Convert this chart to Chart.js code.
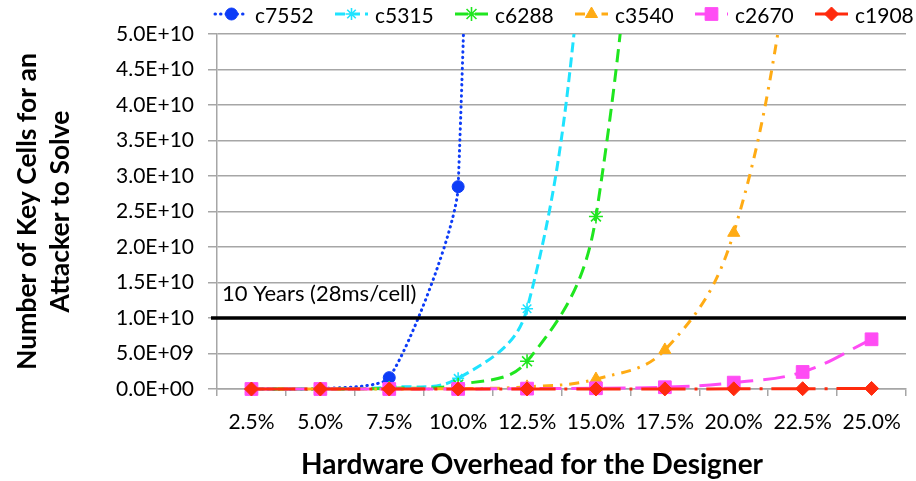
<!DOCTYPE html>
<html>
<head>
<meta charset="utf-8">
<script src="https://cdn.jsdelivr.net/npm/chart.js@4.4.1/dist/chart.umd.min.js"></script>
<style>
  html, body { margin: 0; padding: 0; background: #ffffff; }
  #wrap { width: 916px; height: 481px; }
</style>
</head>
<body>
<div id="wrap"><canvas id="chart" width="916" height="481"></canvas></div>
<script>
// Hardware overhead levels (x axis categories)
const categories = ['2.5%', '5.0%', '7.5%', '10.0%', '12.5%', '15.0%', '17.5%', '20.0%', '22.5%', '25.0%'];

// Number of key cells an attacker must solve, per benchmark circuit
const seriesNames = ['c7552', 'c5315', 'c6288', 'c3540', 'c2670', 'c1908'];
const c7552 = [2e6, 4e7, 1.6e9, 2.85e10, 5e11, null, null, null, null, null];
const c5315 = [1e6, 1e7, 2.5e8, 1.5e9, 1.13e10, 7.5e10, null, null, null, null];
const c6288 = [1e6, 1e7, 1e8, 6e8, 3.9e9, 2.43e10, 1.3e11, null, null, null];
const c3540 = [0, 0, 1e7, 5e7, 3e8, 1.4e9, 5.5e9, 2.2e10, 7e10, null];
const c2670 = [0, 0, 1e6, 1e7, 5e7, 1e8, 2.5e8, 9e8, 2.4e9, 7.0e9];
const c1908 = [0, 0, 0, 1e6, 2e6, 5e6, 1e7, 2e7, 4e7, 8e7];
const seriesValues = [c7552, c5315, c6288, c3540, c2670, c1908];

// Y axis range and step
const yMin = 0;
const yMax = 5e10;
const yStep = 5e9;

// Reference level: ten years of solving at 28 ms per cell
const thresholdValue = 1e10;
const thresholdLabel = '10 Years (28ms/cell)';

const xTitle = 'Hardware Overhead for the Designer';
const yTitle = ['Number of Key Cells for an', 'Attacker to Solve'];

const FONT = 'Lato, "Open Sans", "DejaVu Sans", sans-serif';

// Line and marker style per series
const styles = [
  { color: '#0d3cf7', dash: [0.5, 5], cap: 'round', width: 3, point: 'circle',   radius: 6, tension: 0.2 },
  { color: '#1fe3ff', dash: [10, 5],  cap: 'butt',  width: 3, point: 'star',     radius: 6, tension: 0.4 },
  { color: '#1fe61f', dash: [13, 7],  cap: 'butt',  width: 3, point: 'star',     radius: 7, tension: 0.4 },
  { color: '#ffab14', dash: [10, 7, 2.5, 7], cap: 'butt', width: 3, point: 'triangle', radius: 7, tension: 0.4 },
  { color: '#ff4cf4', dash: [22, 10], cap: 'butt',  width: 3, point: 'rect',     radius: 9, tension: 0.4 },
  { color: '#ff2a0d', dash: [44, 9, 3, 9], cap: 'butt', width: 3, point: 'rectRot', radius: 7, tension: 0.4 }
];

function sci(v) {
  if (v === 0) return '0.0E+00';
  let exp = Math.floor(Math.log10(v) + 1e-9);
  let mant = v / Math.pow(10, exp);
  if (Number(mant.toFixed(1)) >= 10) { exp += 1; mant = v / Math.pow(10, exp); }
  return mant.toFixed(1) + 'E' + (exp >= 0 ? '+' : '-') + String(Math.abs(exp)).padStart(2, '0');
}

const datasets = seriesNames.map((name, i) => ({
  label: name,
  data: seriesValues[i],
  borderColor: styles[i].color,
  backgroundColor: styles[i].color,
  borderWidth: styles[i].width,
  borderDash: styles[i].dash,
  borderCapStyle: styles[i].cap,
  pointStyle: styles[i].point,
  pointRadius: styles[i].radius,
  pointHoverRadius: styles[i].radius,
  pointBackgroundColor: styles[i].color,
  pointBorderColor: styles[i].color,
  pointBorderWidth: (styles[i].point === 'star') ? 1.6 : 1,
  tension: styles[i].tension,
  capBezierPoints: false,
  spanGaps: true,
  fill: false,
  order: seriesNames.length - i,
  clip: { left: 12, right: 12, top: 0, bottom: 12 }
}));

// Ten-year reference line and its caption
const thresholdPlugin = {
  id: 'threshold',
  afterDatasetsDraw(chart) {
    const { ctx, chartArea, scales } = chart;
    const y = scales.y.getPixelForValue(thresholdValue);
    ctx.save();
    ctx.strokeStyle = '#000000';
    ctx.lineWidth = 3.5;
    ctx.setLineDash([]);
    ctx.beginPath();
    ctx.moveTo(chartArea.left - 6, y);
    ctx.lineTo(chartArea.right, y);
    ctx.stroke();
    ctx.fillStyle = '#000000';
    ctx.font = '22px ' + FONT;
    ctx.textAlign = 'left';
    ctx.textBaseline = 'middle';
    ctx.fillText(thresholdLabel, chartArea.left + 5, y - 24);
    ctx.restore();
  }
};

// Legend row: line sample with marker, followed by the series name
const legendPlugin = {
  id: 'lineLegend',
  afterDraw(chart) {
    const { ctx } = chart;
    const drawPoint = Chart.helpers && Chart.helpers.drawPoint;
    const startX = 215, step = 120, sampleW = 33, y = 14;
    ctx.save();
    seriesNames.forEach((name, i) => {
      const s = styles[i];
      const x0 = startX + i * step;
      ctx.strokeStyle = s.color;
      ctx.lineWidth = s.width;
      ctx.lineCap = s.cap;
      ctx.setLineDash(s.dash);
      ctx.beginPath();
      ctx.moveTo(x0, y);
      ctx.lineTo(x0 + sampleW, y);
      ctx.stroke();
      ctx.setLineDash([]);
      ctx.lineCap = 'butt';
      ctx.fillStyle = s.color;
      ctx.strokeStyle = s.color;
      ctx.lineWidth = (s.point === 'star') ? 1.6 : 1;
      if (drawPoint) {
        drawPoint(ctx, { pointStyle: s.point, radius: s.radius, rotation: 0, borderWidth: ctx.lineWidth }, x0 + sampleW / 2, y);
      }
      ctx.fillStyle = '#000000';
      ctx.font = '21px ' + FONT;
      ctx.textAlign = 'left';
      ctx.textBaseline = 'middle';
      ctx.fillText(name, x0 + sampleW + 7, y + 2);
    });
    ctx.restore();
  }
};

// Horizontal axis title
const xTitlePlugin = {
  id: 'xTitle',
  afterDraw(chart) {
    const { ctx } = chart;
    ctx.save();
    ctx.fillStyle = '#000000';
    ctx.font = 'bold 28px ' + FONT;
    ctx.textAlign = 'center';
    ctx.textBaseline = 'middle';
    ctx.fillText(xTitle, 532, 465);
    ctx.restore();
  }
};

Chart.defaults.font.family = FONT;
Chart.defaults.color = '#000000';

new Chart(document.getElementById('chart'), {
  type: 'line',
  data: { labels: categories, datasets },
  plugins: [thresholdPlugin, legendPlugin, xTitlePlugin],
  options: {
    responsive: false,
    animation: false,
    devicePixelRatio: 1,
    layout: { padding: { top: 34, left: 0, right: 0, bottom: 0 } },
    plugins: {
      legend: { display: false },
      tooltip: { enabled: false },
      title: { display: false }
    },
    scales: {
      x: {
        type: 'category',
        offset: true,
        grid: {
          offset: true,
          drawOnChartArea: false,
          drawTicks: true,
          tickLength: 7,
          color: '#a6a6a6',
          lineWidth: 1.5
        },
        border: { display: true, color: '#a6a6a6', width: 1.5 },
        ticks: {
          font: { size: 21, family: FONT },
          color: '#000000',
          padding: 14,
          maxRotation: 0,
          autoSkip: false
        },
        afterFit(scale) { scale.height = 92; }
      },
      y: {
        min: yMin,
        max: yMax,
        grid: {
          color: '#a6a6a6',
          lineWidth: 1.5,
          drawTicks: true,
          tickLength: 9
        },
        border: { display: true, color: '#a6a6a6', width: 1.5 },
        ticks: {
          stepSize: yStep,
          font: { size: 21, family: FONT },
          color: '#000000',
          padding: 14,
          callback: (v) => sci(v)
        },
        title: {
          display: true,
          text: yTitle,
          font: { size: 26.5, weight: 'bold', family: FONT, lineHeight: 1.245 },
          color: '#000000',
          padding: { top: 10.5, bottom: 0 }
        },
        afterFit(scale) { scale.width = 217; }
      }
    }
  }
});
</script>
</body>
</html>
